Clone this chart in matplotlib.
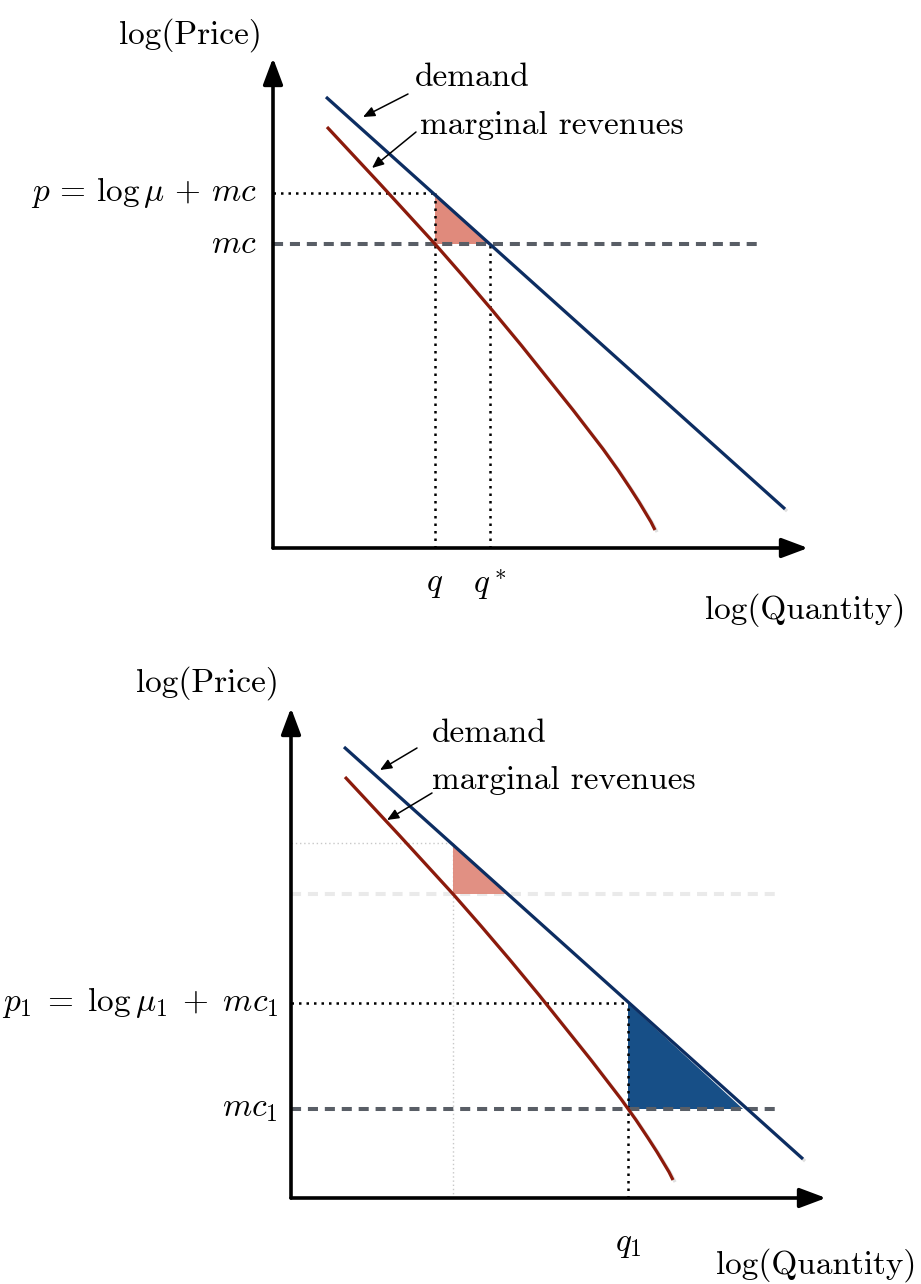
import numpy as np
import matplotlib
matplotlib.use("Agg")
import matplotlib.pyplot as plt
import matplotlib.patheffects as pe

plt.rcParams['mathtext.fontset'] = 'cm'
plt.rcParams['font.family'] = ['cmr10', 'DejaVu Serif']
plt.rcParams['axes.unicode_minus'] = False

# --- data (units: log quantity / log price, axis origin = 0) ---
demand_q = [0.53, 5.12]
demand_p = [4.51, 0.39]

mr_q = [0.54, 1.08, 1.62, 1.90, 2.19, 2.48, 2.76, 3.00, 3.30, 3.45, 3.57, 3.66, 3.72, 3.78, 3.82]
mr_p = [4.21, 3.63, 3.04, 2.72, 2.38, 2.03, 1.68, 1.38, 0.99, 0.78, 0.60, 0.46, 0.36, 0.26, 0.18]

q0, q0_star, p0, mc0 = 1.62, 2.17, 3.55, 3.04   # first equilibrium
q1, q1_int, p1, mc1 = 3.37, 4.52, 1.95, 0.89    # second equilibrium
mc_line_end = 4.90
x_tip, y_tip = 5.35, 4.90

# colours
NAVY = '#0c2d62'
DARKRED = '#8c1a0b'
PINK = '#e08a7c'
BLUE = '#174f87'
GRAY = '#595e66'

W, H = 921, 1284
fig = plt.figure(figsize=(W / 100, H / 100), dpi=100)

shadow = [pe.SimpleLineShadow(offset=(1.5, -1.5), shadow_color='gray', alpha=0.25), pe.Normal()]
dotted = (0, (1, 2))
dashed = (0, (2.5, 1.7))


def panel(ox, oy):
    # axes where 1 data unit = 100 px, origin at pixel (ox, oy)
    ax = fig.add_axes([ox / W, (H - oy) / H, x_tip * 100 / W, y_tip * 100 / H])
    ax.set_xlim(0, x_tip)
    ax.set_ylim(0, y_tip)
    ax.axis('off')
    # axes arrows
    for tip in [(x_tip, 0), (0, y_tip)]:
        ax.annotate('', xy=tip, xytext=(0, 0), annotation_clip=False,
                    arrowprops=dict(arrowstyle='-|>,head_length=0.8,head_width=0.3',
                                    mutation_scale=20, lw=2.6, color='black',
                                    shrinkA=0, shrinkB=0), zorder=6)
    ax.plot(demand_q, demand_p, color=NAVY, lw=2.3, zorder=5, path_effects=shadow,
            solid_capstyle='butt', clip_on=False)
    ax.plot(mr_q, mr_p, color=DARKRED, lw=2.3, zorder=5, path_effects=shadow,
            solid_capstyle='butt', solid_joinstyle='round', clip_on=False)
    return ax


def pointer(ax, text, txt_xy, tail, head):
    ax.text(*txt_xy, text, fontsize=24, va='center', ha='left')
    ax.annotate('', xy=head, xytext=tail, annotation_clip=False,
                arrowprops=dict(arrowstyle='-|>,head_length=0.7,head_width=0.3',
                                mutation_scale=10, lw=1.1, color='black',
                                shrinkA=0, shrinkB=0), zorder=7)


# ---------------- top panel ----------------
ax = panel(273, 548)
ax.fill([q0, q0, q0_star], [p0, mc0, mc0], color=PINK, lw=0, zorder=2)
ax.plot([0, q0], [p0, p0], color='black', lw=1.8, ls=dotted, zorder=3)
ax.plot([q0, q0], [0, p0], color='black', lw=1.8, ls=dotted, zorder=3)
ax.plot([q0_star, q0_star], [0, mc0], color='black', lw=1.8, ls=dotted, zorder=3)
ax.plot([0, mc_line_end], [mc0, mc0], color=GRAY, lw=2.9, ls=dashed, zorder=4)

ax.text(-0.16, p0, r'$p\,=\,\log\mu\,+\,mc$', fontsize=24, ha='right', va='center')
ax.text(-0.16, mc0, r'$mc$', fontsize=24, ha='right', va='center')
ax.text(q0, -0.37, r'$q$', fontsize=24, ha='center', va='center')
ax.text(q0_star, -0.37, r'$q^*$', fontsize=24, ha='center', va='center')
ax.text(-0.83, 5.13, 'log(Price)', fontsize=24, ha='center', va='center')
ax.text(5.32, -0.62, 'log(Quantity)', fontsize=24, ha='center', va='center')
pointer(ax, 'demand', (1.42, 4.71), (1.35, 4.54), (0.90, 4.31))
pointer(ax, 'marginal revenues', (1.47, 4.23), (1.43, 4.16), (0.99, 3.80))

# ---------------- bottom panel ----------------
ax = panel(291, 1198)
# faded previous equilibrium
ax.fill([q0, q0, q0_star], [p0, mc0, mc0], color=PINK, lw=0, alpha=0.95, zorder=2)
ax.plot([-0.04, q0], [p0, p0], color='#c8c8c8', lw=1.0, ls=(0, (1, 2)), zorder=1)
ax.plot([q0, q0], [0, p0], color='#c8c8c8', lw=1.0, ls=(0, (1, 2)), zorder=1)
ax.plot([0, mc_line_end], [mc0, mc0], color='#eaeaea', lw=2.9, ls=dashed, zorder=1)

ax.fill([q1, q1, q1_int], [p1, mc1, mc1], color=BLUE, lw=0, zorder=2)
ax.plot([0, q1], [p1, p1], color='black', lw=1.8, ls=dotted, zorder=3)
ax.plot([q1, q1], [0, p1], color='black', lw=1.8, ls=dotted, zorder=3)
ax.plot([0, mc_line_end], [mc1, mc1], color=GRAY, lw=2.9, ls=dashed, zorder=4)

ax.text(-0.13, p1, r'$p_1\;=\;\log\mu_1\;+\;mc_1$', fontsize=24, ha='right', va='center')
ax.text(-0.13, mc1, r'$mc_1$', fontsize=24, ha='right', va='center')
ax.text(q1, -0.47, r'$q_1$', fontsize=24, ha='center', va='center')
ax.text(-0.84, 5.15, 'log(Price)', fontsize=24, ha='center', va='center')
ax.text(5.25, -0.67, 'log(Quantity)', fontsize=24, ha='center', va='center')
pointer(ax, 'demand', (1.41, 4.65), (1.26, 4.50), (0.89, 4.28))
pointer(ax, 'marginal revenues', (1.41, 4.18), (1.41, 4.05), (0.96, 3.78))

fig.savefig('out.png', dpi=100)
